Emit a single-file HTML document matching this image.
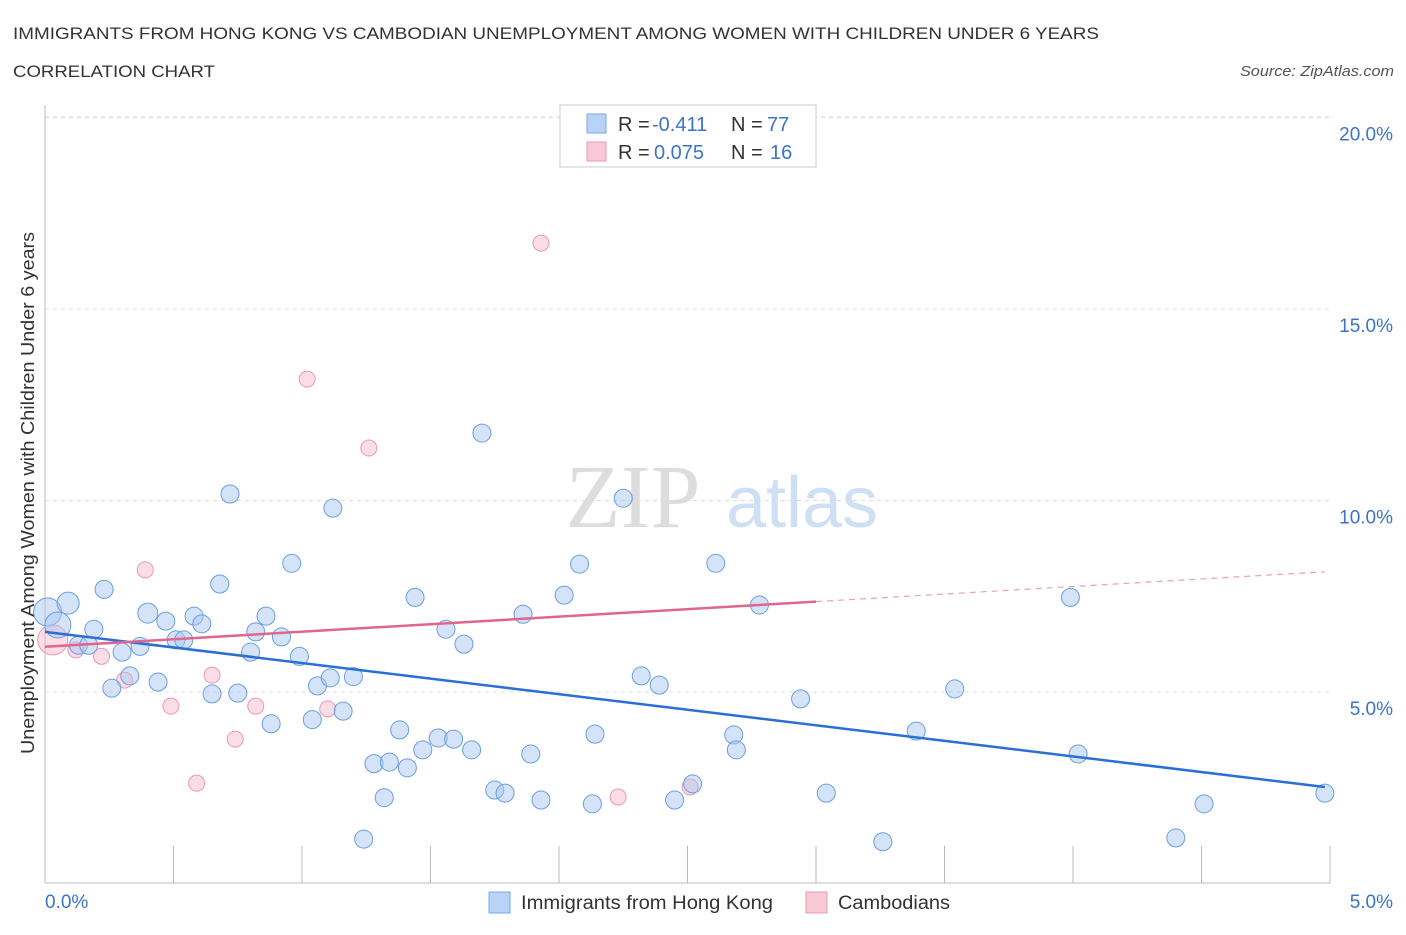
<!DOCTYPE html>
<html><head><meta charset="utf-8"><style>
body{margin:0;background:#fff;font-family:"Liberation Sans",sans-serif}
</style></head><body>
<svg width="1406" height="930" xmlns="http://www.w3.org/2000/svg" id="svg">
<text x="13" y="39" font-size="17" fill="#333" textLength="1086" lengthAdjust="spacingAndGlyphs">IMMIGRANTS FROM HONG KONG VS CAMBODIAN UNEMPLOYMENT AMONG WOMEN WITH CHILDREN UNDER 6 YEARS</text>
<text x="13" y="77" font-size="17" fill="#333" textLength="202" lengthAdjust="spacingAndGlyphs">CORRELATION CHART</text>
<text x="1394" y="76" font-size="15" fill="#555" text-anchor="end" font-style="italic" textLength="154" lengthAdjust="spacingAndGlyphs">Source: ZipAtlas.com</text>
<g>
<text x="633" y="527" font-size="90" fill="#ddd" text-anchor="middle" font-family="Liberation Serif,serif">ZIP</text>
<text x="802" y="527" font-size="72" fill="#cfe0f5" text-anchor="middle">atlas</text>
</g>
<g id="grid"></g><g id="axes"></g><g id="marks"></g>
<g>
<rect x="560" y="105" width="256" height="62" fill="#fff" stroke="#ccc"/>
<rect x="587" y="114" width="19" height="19" fill="#b8d3f5" stroke="#7aaae6"/>
<text x="618" y="131" font-size="20" fill="#333">R =</text>
<text x="652" y="131" font-size="20" fill="#3b73c9">-0.411</text>
<text x="731" y="131" font-size="20" fill="#333">N =</text>
<text x="767" y="131" font-size="20" fill="#3b73c9">77</text>
<rect x="587" y="142" width="19" height="19" fill="#f9c8d7" stroke="#eb98b3"/>
<text x="618" y="159" font-size="20" fill="#333">R =</text>
<text x="654" y="159" font-size="20" fill="#3b73c9">0.075</text>
<text x="731" y="159" font-size="20" fill="#333">N =</text>
<text x="770" y="159" font-size="20" fill="#3b73c9">16</text>
</g>
<g>
<rect x="489" y="892" width="21" height="21" fill="#b8d3f5" stroke="#7aaae6"/>
<text x="521" y="909" font-size="19" fill="#333" textLength="252" lengthAdjust="spacingAndGlyphs">Immigrants from Hong Kong</text>
<rect x="806" y="892" width="21" height="21" fill="#f9c8d7" stroke="#eb98b3"/>
<text x="838" y="909" font-size="19" fill="#333" textLength="112" lengthAdjust="spacingAndGlyphs">Cambodians</text>
</g>
<text transform="translate(34,493) rotate(-90)" font-size="18" fill="#333" text-anchor="middle" textLength="522" lengthAdjust="spacingAndGlyphs">Unemployment Among Women with Children Under 6 years</text>
</svg>
<script>
const blueX=[0.01,0.05,0.09,0.13,0.17,0.19,0.23,0.26,0.30,0.33,0.37,0.40,0.44,0.47,0.51,0.54,0.58,0.61,0.65,0.68,0.72,0.75,0.80,0.82,0.86,0.88,0.92,0.96,0.99,1.04,1.06,1.11,1.12,1.16,1.20,1.24,1.28,1.32,1.34,1.38,1.41,1.44,1.47,1.53,1.56,1.59,1.63,1.66,1.70,1.75,1.79,1.86,1.89,1.93,2.02,2.08,2.13,2.14,2.25,2.32,2.39,2.45,2.52,2.61,2.68,2.69,2.78,2.94,3.04,3.26,3.39,3.54,3.99,4.02,4.40,4.51,4.98];
const blueY=[7.09,6.75,7.32,6.22,6.22,6.64,7.68,5.10,6.04,5.42,6.19,7.06,5.26,6.85,6.36,6.36,6.98,6.78,4.95,7.82,10.17,4.97,6.04,6.57,6.98,4.17,6.44,8.36,5.93,4.28,5.16,5.37,9.80,4.50,5.40,1.16,3.13,2.24,3.17,4.01,3.02,7.47,3.49,3.80,6.64,3.77,6.25,3.49,11.76,2.44,2.36,7.03,3.38,2.18,7.53,8.34,2.08,3.90,10.06,5.42,5.18,2.18,2.60,8.36,3.88,3.49,7.27,4.82,2.36,1.09,3.98,5.08,7.47,3.38,1.19,2.08,2.36];
const blueR=[14,13,11,9,9,9,9,9,9,9,9,10,9,9,9,9,9,9,9,9,9,9,9,9,9,9,9,9,9,9,9,9,9,9,9,9,9,9,9,9,9,9,9,9,9,9,9,9,9,9,9,9,9,9,9,9,9,9,9,9,9,9,9,9,9,9,9,9,9,9,9,9,9,9,9,9,9];
const pinkX=[0.03,0.12,0.22,0.31,0.39,0.49,0.59,0.65,0.74,0.82,1.02,1.10,1.26,1.93,2.23,2.51];
const pinkY=[6.36,6.10,5.93,5.31,8.19,4.63,2.62,5.44,3.77,4.63,13.17,4.56,11.37,16.72,2.26,2.52];
const pinkR=[15,8,8,8,8,8,8,8,8,8,8,8,8,8,8,8];
const blueTrend=[6.57,2.52];
const pinkTrend=[6.18,8.14];
const yTicks=[5,10,15,20];
const yTickLabels=["5.0%","10.0%","15.0%","20.0%"];
const X0=45,X1=1330,Y0=883.5,PY=38.3;
const sx=v=>X0+(X1-X0)*v/5, sy=v=>Y0-v*PY;
const NS="http://www.w3.org/2000/svg";
function mk(p,t,a){const e=document.createElementNS(NS,t);for(const k in a)e.setAttribute(k,a[k]);document.getElementById(p).appendChild(e);return e;}
yTicks.forEach((t,i)=>{
 const g=mk('grid','line',{x1:X0,x2:X1,y1:sy(t),y2:sy(t),stroke:'#ddd','stroke-dasharray':'4,4'});
 
 
 const l=mk('axes','text',{x:1393,y:sy(t)+23,'font-size':19,fill:'#3b73c9','text-anchor':'end'});l.textContent=yTickLabels[i];
 
 
});
const tg=mk('grid','line',{x1:X0,x2:X1,y1:117,y2:117,stroke:'#ddd','stroke-dasharray':'4,4'});


const ya=mk('axes','line',{x1:X0,x2:X0,y1:105,y2:883,stroke:'#bbb'});


const xa=mk('axes','line',{x1:X0,x2:X1,y1:883,y2:883,stroke:'#bbb'});


for(let i=0;i<=10;i++){const t=mk('axes','line',{x1:sx(i*0.5),x2:sx(i*0.5),y1:846,y2:883,stroke:'#bbb'});
 
 }
[[0,'0.0%','start',45],[5,'5.0%','end',1393]].forEach(a=>{const l=mk('axes','text',{x:a[3],y:908,'font-size':19,fill:'#3b73c9','text-anchor':a[2]});l.textContent=a[1];
 
 });
pinkX.forEach((x,i)=>{const c=mk('marks','circle',{cx:sx(x),cy:sy(pinkY[i]),r:pinkR[i],fill:'rgba(245,180,202,0.45)',stroke:'#eb98b3','stroke-width':1});
 
 });
blueX.forEach((x,i)=>{const c=mk('marks','circle',{cx:sx(x),cy:sy(blueY[i]),r:blueR[i],fill:'rgba(169,200,240,0.5)',stroke:'#6a9fe0','stroke-width':1});
 
 });
const bl=mk('marks','line',{x1:sx(0),y1:sy(blueTrend[0]),x2:sx(4.98),y2:sy(blueTrend[1]),stroke:'#2a6fd6','stroke-width':2.5});


const pAt=x=>pinkTrend[0]+(pinkTrend[1]-pinkTrend[0])*x/4.98;
const pl=mk('marks','line',{x1:sx(0),y1:sy(pAt(0)),x2:sx(3),y2:sy(pAt(3)),stroke:'#e0668f','stroke-width':2.5});


const pd=mk('marks','line',{x1:sx(3),y1:sy(pAt(3)),x2:sx(4.98),y2:sy(pAt(4.98)),stroke:'#e8a0b8','stroke-width':1.2,'stroke-dasharray':'6,5'});


</script>
</body></html>
